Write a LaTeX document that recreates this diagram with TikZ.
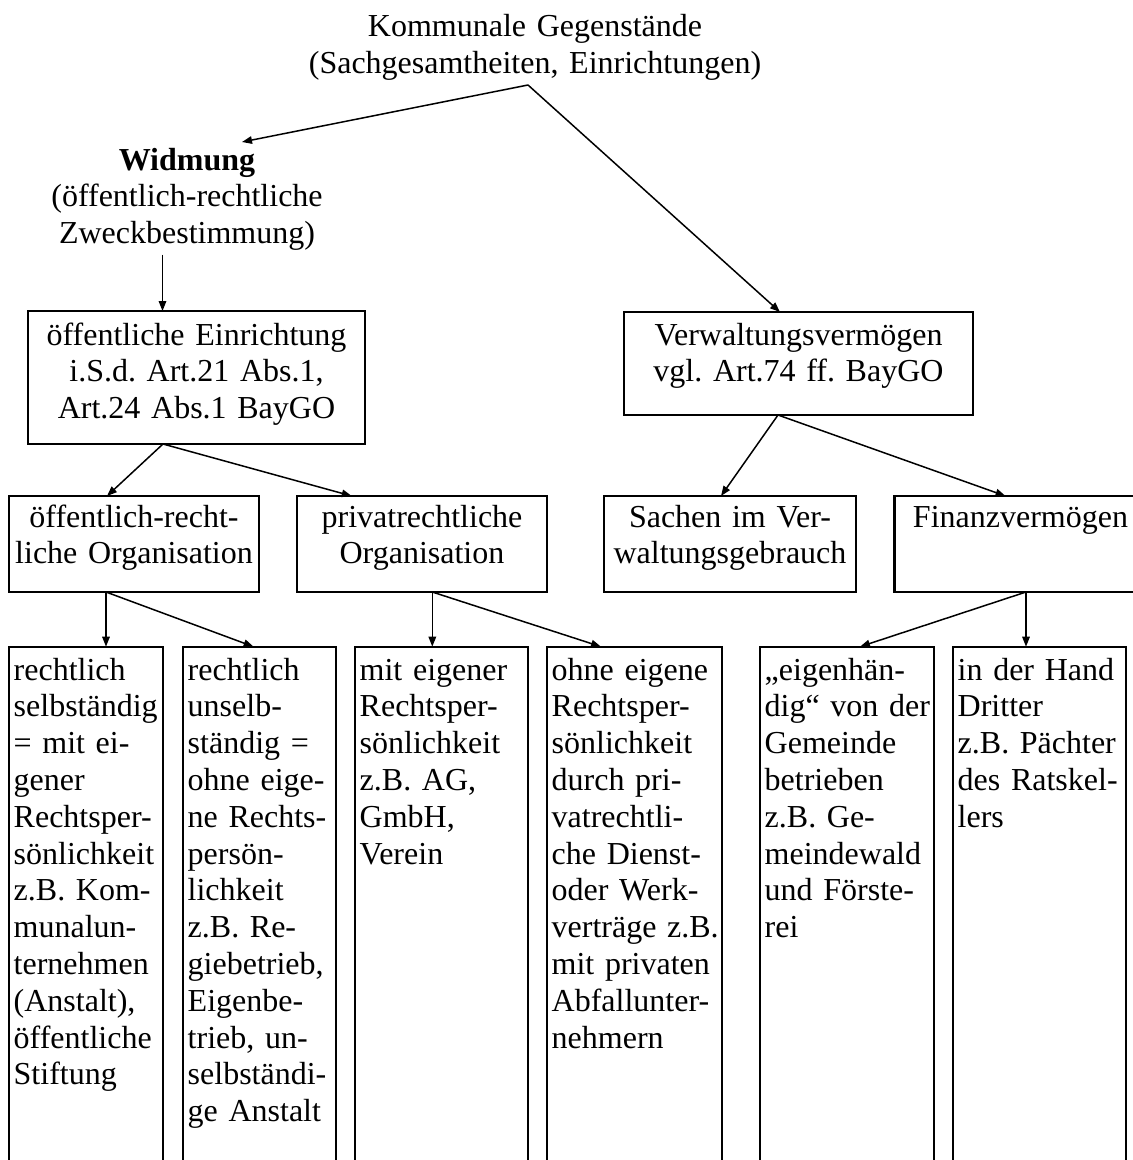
\documentclass[tikz,border=0pt]{standalone}
\usepackage{fontspec}
\setmainfont{Liberation Serif}
\usetikzlibrary{arrows.meta,calc}
\frenchspacing

\begin{document}
\begin{tikzpicture}[x=1pt,y=-1pt,
  every node/.style={font=\fontsize{32pt}{36.8pt}\selectfont, inner sep=0pt, outer sep=0pt},
  arr/.style={line width=1.5pt, -{Triangle[length=10pt,width=7.5pt]}},
  midbox/.style={draw, line width=2.2pt, anchor=north west, align=center},
  colbox/.style={draw, line width=2.2pt, anchor=north west, align=left,
                 inner xsep=4.7pt, inner ysep=0pt, text height=33.3pt, text depth=600pt},
  plain/.style={anchor=base, align=center}
]
\useasboundingbox (0,0) rectangle (1133,1160);
\clip (0,0) rectangle (1133,1160);
\fill[white] (0,0) rectangle (1133,1160);

% heading and dedication
\node[plain, text width=640pt] (T) at (535,36.7)
  {\begin{tabular}[t]{@{}c@{}}Kommunale Gegenstände\\(Sachgesamtheiten, Einrichtungen)\end{tabular}};
\node[plain, text width=320pt] (W) at (187,170)
  {\begin{tabular}[t]{@{}c@{}}\textbf{Widmung}\\(öffentlich-rechtliche\\Zweckbestimmung)\end{tabular}};

% second level
\node[midbox, text width=337pt, text height=34pt, text depth=99pt] (A) at (28,311)
  {\begin{tabular}[t]{@{}c@{}}öffentliche Einrichtung\\i.S.d. Art.21 Abs.1,\\Art.24 Abs.1 BayGO\end{tabular}};
\node[midbox, text width=349pt, text height=33pt, text depth=70pt] (V) at (624,312)
  {\begin{tabular}[t]{@{}c@{}}Verwaltungsvermögen\\vgl. Art.74 ff. BayGO\end{tabular}};

% third level
\node[midbox, text width=250pt, text height=31pt, text depth=65pt] (B1) at (9,496)
  {\begin{tabular}[t]{@{}c@{}}öffentlich-recht-\\liche Organisation\end{tabular}};
\node[midbox, text width=250pt, text height=31pt, text depth=65pt] (B2) at (297,496)
  {\begin{tabular}[t]{@{}c@{}}privatrechtliche\\Organisation\end{tabular}};
\node[midbox, text width=252pt, text height=31pt, text depth=65pt] (B3) at (604,496)
  {\begin{tabular}[t]{@{}c@{}}Sachen im Ver-\\waltungsgebrauch\end{tabular}};
\node[midbox, text width=252pt, text height=31pt, text depth=65pt] (B4) at (894.5,496)
  {\begin{tabular}[t]{@{}c@{}}Finanzvermögen\end{tabular}};

% columns
\node[colbox, text width=144.6pt] (C1) at (9,646.7)
  {\begin{tabular}[t]{@{}l@{}}rechtlich\\selbständig\\= mit ei-\\gener\\Rechtsper-\\sönlichkeit\\z.B. Kom-\\munalun-\\ternehmen\\(Anstalt),\\öffentliche\\Stiftung\end{tabular}};
\node[colbox, text width=143.6pt] (C2) at (183,646.7)
  {\begin{tabular}[t]{@{}l@{}}rechtlich\\unselb-\\ständig =\\ohne eige-\\ne Rechts-\\persön-\\lichkeit\\z.B. Re-\\giebetrieb,\\Eigenbe-\\trieb, un-\\selbständi-\\ge Anstalt\end{tabular}};
\node[colbox, text width=163.6pt] (C3) at (355,646.7)
  {\begin{tabular}[t]{@{}l@{}}mit eigener\\Rechtsper-\\sönlichkeit\\z.B. AG,\\GmbH,\\Verein\end{tabular}};
\node[colbox, text width=165.6pt] (C4) at (547,646.7)
  {\begin{tabular}[t]{@{}l@{}}ohne eigene\\Rechtsper-\\sönlichkeit\\durch pri-\\vatrechtli-\\che Dienst-\\oder Werk-\\verträge z.B.\\mit privaten\\Abfallunter-\\nehmern\end{tabular}};
\node[colbox, text width=164.6pt] (C5) at (760,646.7)
  {\begin{tabular}[t]{@{}l@{}}„eigenhän-\\dig“ von der\\Gemeinde\\betrieben\\z.B. Ge-\\meindewald\\und Förste-\\rei\end{tabular}};
\node[colbox, text width=163.6pt] (C6) at (953,646.7)
  {\begin{tabular}[t]{@{}l@{}}in der Hand\\Dritter\\z.B. Pächter\\des Ratskel-\\lers\end{tabular}};

% connector end points
\coordinate (top)   at (528,85);
\coordinate (wIn)   at (242,142);
\coordinate (vIn)   at ($(V.north west)+(156,0)$);
\coordinate (aIn)   at ($(A.north west)+(134.5,0)$);
\coordinate (aOut)  at ($(A.south west)+(135,0)$);
\coordinate (b1In)  at ($(B1.north west)+(98,0)$);
\coordinate (b2In)  at ($(B2.north west)+(54.7,0)$);
\coordinate (vOut)  at ($(V.south west)+(154,0)$);
\coordinate (b3In)  at ($(B3.north west)+(117,0)$);
\coordinate (b4In)  at ($(B4.north west)+(111,0)$);
\coordinate (b1Out) at ($(B1.south west)+(97,0)$);
\coordinate (c2In)  at ($(C2.north west)+(70.6,0)$);
\coordinate (b2Out) at ($(B2.south west)+(135.3,0)$);
\coordinate (c4In)  at ($(C4.north west)+(54,0)$);
\coordinate (b4Out) at ($(B4.south west)+(131.5,0)$);
\coordinate (c5In)  at ($(C5.north west)+(100,0)$);

% connectors
\draw[arr] (top) -- (wIn);
\draw[arr] (top) -- (vIn);
\draw[arr] (W.south -| aIn) -- (aIn);
\draw[arr] (aOut) -- (b1In);
\draw[arr] (aOut) -- (b2In);
\draw[arr] (vOut) -- (b3In);
\draw[arr] (vOut) -- (b4In);
\draw[arr] (b1Out) -- (b1Out |- C1.north);
\draw[arr] (b1Out) -- (c2In);
\draw[arr] (b2Out) -- (b2Out |- C3.north);
\draw[arr] (b2Out) -- (c4In);
\draw[arr] (b4Out) -- (c5In);
\draw[arr] (b4Out) -- (b4Out |- C6.north);
\end{tikzpicture}
\end{document}
